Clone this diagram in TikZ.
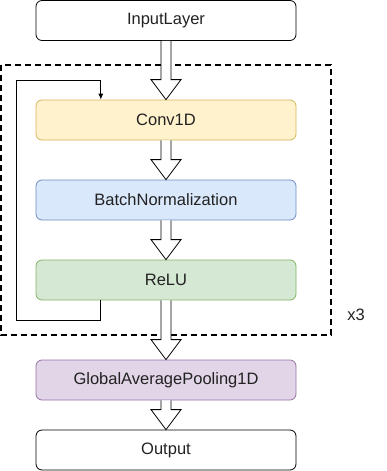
\documentclass[tikz,border=0pt]{standalone}
\usepackage{fontspec}
\setmainfont{Liberation Sans}
\usetikzlibrary{calc,arrows.meta}
\definecolor{convfill}{HTML}{FFF2CC}\definecolor{convline}{HTML}{D6B656}
\definecolor{bnfill}{HTML}{DAE8FC}\definecolor{bnline}{HTML}{6C8EBF}
\definecolor{relufill}{HTML}{D5E8D4}\definecolor{reluline}{HTML}{82B366}
\definecolor{gapfill}{HTML}{E1D5E7}\definecolor{gapline}{HTML}{9673A6}
\definecolor{txt}{HTML}{222222}
\tikzset{
  label text/.style={text=txt, font=\fontsize{16.5}{19}\selectfont},
  layer/.style={draw, rounded corners=6pt, minimum width=260pt, minimum height=40pt,
    inner sep=0pt, line width=0.8pt, label text},
  fatarrow/.style={draw, fill=white, line width=0.8pt, line join=miter},
  feedback/.style={draw, line width=0.8pt, -{Latex[length=6pt,width=5pt]}},
  frame/.style={draw, dashed, line width=1.5pt, dash pattern=on 6pt off 4pt},
}
% hollow block arrow from the bottom of #1 to the top of #2
\newcommand\fatarrowbetween[2]{%
  \draw[fatarrow] ($(#1.south)+(-5,0)$) -- ($(#2.north)+(-5,-20)$)
    -- ($(#2.north)+(-15,-20)$) -- (#2.north) -- ($(#2.north)+(15,-20)$)
    -- ($(#2.north)+(5,-20)$) -- ($(#1.south)+(5,0)$);}
\begin{document}
\begin{tikzpicture}[x=1pt, y=-1pt]
  \useasboundingbox (0,0) rectangle (387,471);
  % repeated block
  \draw[frame] (1,65) rectangle (331,335);
  \node[label text] (times) at (356,315) {x3};
  % layers
  \node[layer] (in) at (166,20.5) {InputLayer};
  \node[layer, fill=convfill, draw=convline] (conv) at (166,120) {Conv1D};
  \node[layer, fill=bnfill, draw=bnline] (bn) at (166,200) {BatchNormalization};
  \node[layer, fill=relufill, draw=reluline] (relu) at (166,280) {ReLU};
  \node[layer, fill=gapfill, draw=gapline] (gap) at (166,380) {GlobalAveragePooling1D};
  \node[layer] (out) at (166,450) {Output};
  % flow
  \fatarrowbetween{in}{conv}
  \fatarrowbetween{conv}{bn}
  \fatarrowbetween{bn}{relu}
  \fatarrowbetween{relu}{gap}
  \fatarrowbetween{gap}{out}
  % loop back from ReLU to Conv1D
  \coordinate (fbstart) at ($(relu.south west)!0.25!(relu.south east)$);
  \coordinate (fbend) at ($(conv.north west)!0.25!(conv.north east)$);
  \coordinate (fbleft) at (16.5,80);
  \draw[feedback] (fbstart) -- ++(0,20) -| (fbleft) -| (fbend);
\end{tikzpicture}
\end{document}
